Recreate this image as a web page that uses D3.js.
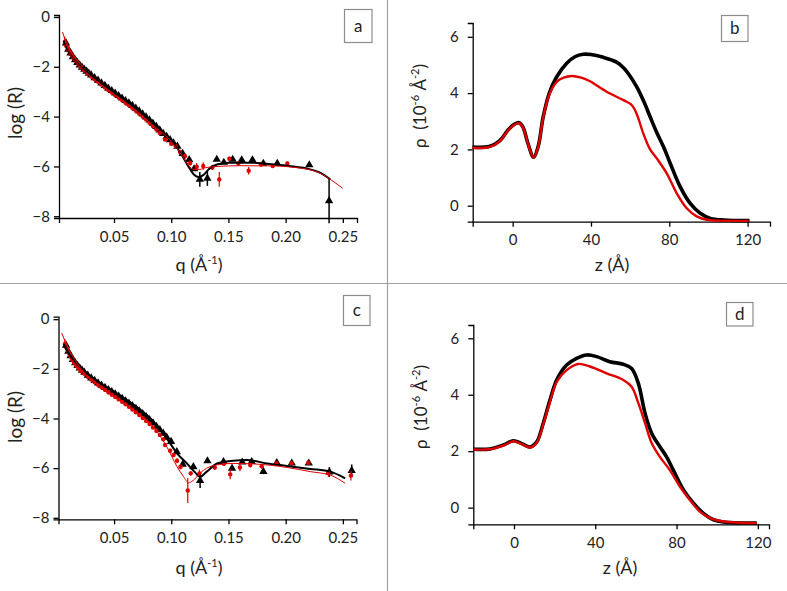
<!DOCTYPE html>
<html><head><meta charset="utf-8">
<script src="https://cdn.jsdelivr.net/npm/d3@7"></script>
<style>
html,body{margin:0;padding:0;background:#fff;}
svg text{font-family:Lato,"Open Sans",sans-serif;fill:#222;}
</style></head>
<body><svg id="c" width="787" height="591"></svg>
<script>
// ---------------- DATA ----------------
const qTicks = [0.05, 0.10, 0.15, 0.20, 0.25];
const logRTicks = [0, -2, -4, -6, -8];
const zTicks = [0, 40, 80, 120];
const rhoTicks = [0, 2, 4, 6];

// Panel a : [q, logR, err]
const aBlackData = [[0.008,-1.05,0],[0.010,-1.3,0],[0.012,-1.45,0],[0.014,-1.6,0],[0.016,-1.72,0],[0.018,-1.83,0],[0.020,-1.93,0],[0.022,-2.02,0],[0.024,-2.1,0],[0.026,-2.18,0],[0.028,-2.26,0],[0.030,-2.33,0],[0.033,-2.44,0],[0.036,-2.54,0],[0.039,-2.65,0],[0.042,-2.75,0],[0.045,-2.86,0],[0.048,-2.96,0],[0.051,-3.06,0],[0.054,-3.16,0],[0.057,-3.26,0],[0.060,-3.36,0],[0.063,-3.46,0],[0.066,-3.56,0],[0.069,-3.67,0],[0.072,-3.78,0],[0.075,-3.9,0],[0.078,-4.02,0],[0.081,-4.14,0],[0.084,-4.27,0],[0.087,-4.4,0],[0.090,-4.54,0],[0.093,-4.68,0],[0.096,-4.8,0],[0.099,-4.93,0],[0.102,-5.06,0],[0.1054,-5.19,0],[0.110,-5.48,0],[0.1157,-5.73,0],[0.120,-6.1,0],[0.125,-6.52,0.3],[0.1316,-6.48,0.3],[0.1398,-5.72,0],[0.146,-5.84,0],[0.1537,-5.72,0],[0.1616,-5.74,0],[0.171,-5.74,0],[0.1805,-5.88,0],[0.1927,-5.88,0],[0.2207,-5.94,0],[0.238,-7.38,0.9]];
const aRedData = [[0.007,-1.0,0.22],[0.009,-1.2,0.2],[0.011,-1.38,0.18],[0.013,-1.52,0.15],[0.015,-1.66,0.12],[0.017,-1.78,0.1],[0.019,-1.9,0.08],[0.021,-2.0,0.06],[0.024,-2.14,0.05],[0.027,-2.27,0.05],[0.030,-2.39,0.04],[0.033,-2.5,0.04],[0.036,-2.6,0.03],[0.039,-2.71,0.03],[0.042,-2.82,0.03],[0.045,-2.93,0.03],[0.048,-3.03,0.03],[0.051,-3.13,0.03],[0.054,-3.23,0.03],[0.057,-3.33,0.03],[0.060,-3.44,0.03],[0.063,-3.54,0.03],[0.066,-3.65,0.03],[0.069,-3.76,0.03],[0.072,-3.88,0.03],[0.075,-4.0,0.03],[0.078,-4.12,0.04],[0.081,-4.25,0.04],[0.084,-4.38,0.04],[0.087,-4.52,0.05],[0.090,-4.66,0.05],[0.0946,-4.92,0.06],[0.100,-5.08,0.06],[0.104,-5.19,0.07],[0.1077,-5.42,0.08],[0.112,-5.59,0.1],[0.1166,-5.86,0.1],[0.1223,-6.01,0.15],[0.128,-5.98,0.15],[0.136,-6.04,0.1],[0.142,-6.52,0.3],[0.1508,-5.69,0.08],[0.1587,-5.88,0.08],[0.1677,-6.17,0.15],[0.1785,-5.92,0.08],[0.1887,-5.98,0.08],[0.2015,-5.88,0.08]];
const aBlackFit = [[0.006,-0.95],[0.010,-1.35],[0.015,-1.7],[0.020,-1.95],[0.030,-2.35],[0.040,-2.7],[0.050,-3.03],[0.060,-3.35],[0.070,-3.7],[0.080,-4.1],[0.090,-4.55],[0.100,-4.95],[0.105,-5.25],[0.110,-5.6],[0.115,-6.0],[0.120,-6.33],[0.124,-6.42],[0.128,-6.35],[0.133,-6.1],[0.140,-5.92],[0.150,-5.85],[0.170,-5.85],[0.190,-5.92],[0.210,-6.02],[0.220,-6.1],[0.230,-6.25],[0.239,-6.52]];
const aRedFit = [[0.005,-0.6],[0.010,-1.3],[0.020,-1.97],[0.030,-2.4],[0.050,-3.1],[0.080,-4.2],[0.100,-5.0],[0.110,-5.6],[0.115,-5.95],[0.120,-6.12],[0.125,-6.12],[0.130,-6.05],[0.140,-6.0],[0.160,-5.97],[0.190,-5.98],[0.210,-6.05],[0.220,-6.12],[0.230,-6.27],[0.240,-6.55],[0.250,-6.88]];

// Panel c : [q, logR, err]
const cBlackData = [[0.008,-1.05,0],[0.010,-1.3,0],[0.012,-1.48,0],[0.014,-1.63,0],[0.016,-1.76,0],[0.018,-1.87,0],[0.020,-1.97,0],[0.022,-2.06,0],[0.024,-2.14,0],[0.027,-2.26,0],[0.030,-2.37,0],[0.033,-2.47,0],[0.036,-2.57,0],[0.039,-2.66,0],[0.042,-2.75,0],[0.045,-2.84,0],[0.048,-2.93,0],[0.051,-3.02,0],[0.054,-3.11,0],[0.057,-3.2,0],[0.060,-3.3,0],[0.063,-3.39,0],[0.066,-3.49,0],[0.069,-3.6,0],[0.072,-3.7,0],[0.075,-3.81,0],[0.078,-3.93,0],[0.081,-4.05,0],[0.084,-4.18,0],[0.087,-4.32,0],[0.090,-4.46,0],[0.093,-4.6,0],[0.096,-4.76,0],[0.0998,-4.93,0],[0.1048,-5.34,0],[0.110,-5.85,0],[0.1193,-5.95,0],[0.1252,-6.5,0.3],[0.1316,-5.71,0],[0.1456,-5.74,0],[0.1531,-6.01,0],[0.162,-5.76,0],[0.1703,-5.74,0],[0.1805,-6.14,0.1],[0.1922,-5.78,0],[0.2053,-5.8,0],[0.2202,-5.8,0],[0.2382,-6.16,0.2],[0.2577,-6.1,0.25]];
const cRedData = [[0.007,-1.0,0.2],[0.009,-1.2,0.18],[0.011,-1.42,0.15],[0.013,-1.6,0.12],[0.015,-1.75,0.1],[0.017,-1.88,0.08],[0.019,-1.99,0.06],[0.021,-2.09,0.05],[0.024,-2.2,0.04],[0.027,-2.32,0.04],[0.030,-2.43,0.03],[0.033,-2.54,0.03],[0.036,-2.64,0.03],[0.039,-2.74,0.03],[0.042,-2.84,0.03],[0.045,-2.94,0.03],[0.048,-3.04,0.03],[0.051,-3.13,0.03],[0.054,-3.23,0.03],[0.057,-3.33,0.03],[0.060,-3.43,0.03],[0.063,-3.53,0.03],[0.066,-3.64,0.03],[0.069,-3.75,0.03],[0.072,-3.86,0.03],[0.075,-3.98,0.04],[0.078,-4.1,0.04],[0.081,-4.22,0.04],[0.084,-4.36,0.05],[0.087,-4.5,0.05],[0.090,-4.66,0.05],[0.093,-4.84,0.06],[0.0946,-5.07,0.06],[0.099,-5.3,0.08],[0.102,-5.47,0.08],[0.105,-5.7,0.1],[0.108,-5.95,0.1],[0.1144,-6.9,0.5],[0.117,-6.21,0.1],[0.1246,-6.21,0.15],[0.138,-5.97,0.1],[0.146,-5.82,0.08],[0.1515,-6.25,0.2],[0.160,-5.97,0.15],[0.169,-5.87,0.1],[0.179,-5.92,0.1],[0.192,-5.8,0.08],[0.205,-5.8,0.08],[0.2197,-5.78,0.08],[0.2373,-6.2,0.15],[0.257,-6.3,0.2]];
const cBlackFit = [[0.006,-1.0],[0.0086,-1.24],[0.023,-2.04],[0.0378,-2.58],[0.050,-2.92],[0.067,-3.45],[0.0815,-3.99],[0.096,-4.8],[0.105,-5.4],[0.1136,-5.81],[0.121,-6.18],[0.125,-6.35],[0.131,-6.14],[0.140,-5.81],[0.154,-5.7],[0.166,-5.67],[0.1835,-5.81],[0.201,-5.91],[0.2215,-6.03],[0.239,-6.14],[0.252,-6.41]];
const cRedFit = [[0.0042,-0.56],[0.0086,-1.03],[0.023,-2.11],[0.0378,-2.72],[0.050,-3.09],[0.067,-3.66],[0.0815,-4.19],[0.096,-5.13],[0.105,-5.94],[0.1107,-6.34],[0.115,-6.59],[0.119,-6.5],[0.125,-6.21],[0.131,-6.0],[0.140,-5.87],[0.154,-5.81],[0.172,-5.83],[0.201,-5.97],[0.2215,-6.14],[0.239,-6.28],[0.252,-6.61]];

// Panel b : [z, rho]
const bBlack = [[-20.5,2.08],[-12,2.1],[-6.7,2.3],[-2.4,2.69],[1,2.9],[3.2,2.95],[5.2,2.8],[7.8,2.21],[10.7,1.72],[13,2.1],[15.6,3.16],[18.7,4.0],[22.5,4.58],[27.6,5.06],[32,5.3],[36,5.38],[40,5.37],[46.3,5.27],[53.1,5.1],[56.6,4.9],[60,4.6],[63.3,4.23],[67,3.7],[70.2,3.16],[73.6,2.6],[77,2.1],[80.5,1.5],[85.6,0.67],[90.7,0.08],[95.8,-0.27],[101,-0.45],[107.8,-0.51],[121,-0.53]];
const bRed = [[-20.5,2.06],[-12,2.08],[-6.7,2.28],[-2.4,2.67],[1,2.88],[3.2,2.93],[5.2,2.78],[7.8,2.2],[10.7,1.7],[13,2.08],[15.6,3.14],[18.7,3.95],[22.5,4.4],[26,4.55],[30.2,4.61],[35,4.55],[39.5,4.42],[48,4.05],[56.6,3.75],[60.9,3.57],[63.4,3.25],[66.8,2.55],[70.2,2.0],[73.6,1.68],[78.7,1.15],[83.8,0.44],[88.9,-0.09],[94,-0.38],[99.1,-0.5],[105,-0.53],[120.6,-0.54]];
// Panel d : [z, rho]
const dBlack = [[-20,2.07],[-11.8,2.08],[-5.2,2.22],[-0.3,2.37],[3.8,2.27],[7.9,2.15],[11.2,2.33],[14.4,2.99],[17.7,3.81],[21,4.52],[25.9,5.05],[30.8,5.29],[35.8,5.41],[40.7,5.35],[47.2,5.17],[53.8,5.08],[57.9,4.93],[61.2,4.4],[64.5,3.34],[67.8,2.63],[71.8,2.16],[75.1,1.8],[78.4,1.33],[83.4,0.63],[88.3,0.16],[93.2,-0.2],[98.2,-0.43],[103.1,-0.51],[119.5,-0.55]];
const dRed = [[-20,2.06],[-11.8,2.07],[-5.2,2.2],[-0.3,2.35],[3.8,2.25],[7.9,2.13],[11.2,2.3],[14.4,2.95],[17.7,3.75],[21,4.45],[25.9,4.87],[31.6,5.09],[37.4,5.0],[45.6,4.76],[53.8,4.52],[57.9,4.28],[61.2,3.7],[64.5,2.99],[67.8,2.28],[71.8,1.8],[76.7,1.33],[81.7,0.74],[86.6,0.27],[91.5,-0.14],[96.5,-0.37],[103.1,-0.49],[119.5,-0.55]];

// ---------------- DRAW ----------------
const RED = "#e00000";
const svg = d3.select("#c");
svg.append("rect").attr("width",787).attr("height",591).attr("fill","#fff");

// separators
svg.append("line").attr("x1",0).attr("x2",787).attr("y1",283.5).attr("y2",283.5).attr("stroke","#a0a0a0").attr("stroke-width",1.2);
svg.append("line").attr("x1",387.5).attr("x2",387.5).attr("y1",0).attr("y2",591).attr("stroke","#a0a0a0").attr("stroke-width",1.2);

function styleAxis(g, fs){
  g.selectAll("path.domain").attr("stroke","#000").attr("stroke-width",1.3);
  g.selectAll(".tick line").attr("stroke","#000").attr("stroke-width",1.3);
  g.selectAll("text").style("font-size",fs+"px").attr("fill","#222");
}
function addAxes(x, y, xt, yt, xfmt, yfmt, fs, ypad){
  const gx = svg.append("g").attr("transform",`translate(0,${y.range()[0]})`)
    .call(d3.axisBottom(x).tickValues(xt).tickSizeOuter(0).tickSize(5).tickPadding(8).tickFormat(xfmt));
  styleAxis(gx, fs);
  const gy = svg.append("g").attr("transform",`translate(${x.range()[0]},0)`)
    .call(d3.axisLeft(y).tickValues(yt).tickSizeOuter(0).tickSize(5).tickPadding(ypad).tickFormat(yfmt));
  styleAxis(gy, fs);
}
function labelBox(x, y, w, h, t){
  svg.append("rect").attr("x",x).attr("y",y).attr("width",w).attr("height",h)
    .attr("fill","#fff").attr("stroke","#8c8c8c").attr("stroke-width",1.2);
  svg.append("text").attr("x",x+w/2).attr("y",y+h/2).attr("dy","0.35em").attr("text-anchor","middle")
    .style("font-size","17px").attr("fill","#111").text(t);
}
function qLabel(cx, by){
  const t = svg.append("text").attr("x",cx).attr("y",by).attr("text-anchor","middle").style("font-size","18px").attr("fill","#111");
  t.append("tspan").text("q (Å");
  t.append("tspan").attr("dy",-7).style("font-size","11px").text("-1");
  t.append("tspan").attr("dy",7).text(")");
}
function logRLabel(cx, cy){
  svg.append("text").attr("transform",`translate(${cx},${cy}) rotate(-90)`).attr("text-anchor","middle")
    .attr("dy","0.35em").style("font-size","19px").attr("fill","#111").text("log (R)");
}
function zLabel(cx, by){
  svg.append("text").attr("x",cx).attr("y",by).attr("text-anchor","middle").style("font-size","18px").attr("fill","#111").text("z (Å)");
}
function rhoLabel(cx, cy){
  const t = svg.append("text").attr("transform",`translate(${cx},${cy}) rotate(-90)`).attr("text-anchor","middle")
    .attr("dy","0.35em").style("font-size","17px").attr("fill","#111").attr("xml:space","preserve");
  t.append("tspan").text("ρ  (10");
  t.append("tspan").attr("dy",-7).style("font-size","11px").text("-6");
  t.append("tspan").attr("dy",7).text(" Å");
  t.append("tspan").attr("dy",-7).style("font-size","11px").text("-2");
  t.append("tspan").attr("dy",7).text(")");
}

const fmtQ = d3.format(".2f");
const fmtI = d3.format("d");
const tri = d3.symbol().type(d3.symbolTriangle).size(30);

function reflPanel(x, y, blackData, redData, blackFit, redFit){
  const line = d3.line().x(d=>x(d[0])).y(d=>y(d[1])).curve(d3.curveMonotoneX);
  const gb = svg.append("g");
  gb.selectAll("line").data(blackData.filter(d=>d[2]>0)).join("line")
    .attr("x1",d=>x(d[0])).attr("x2",d=>x(d[0]))
    .attr("y1",d=>y(d[1]-d[2])).attr("y2",d=>y(d[1]+d[2]))
    .attr("stroke","#000").attr("stroke-width",1.5);
  gb.selectAll("path").data(blackData).join("path")
    .attr("transform",d=>`translate(${x(d[0])},${y(d[1])})`).attr("d",tri).attr("fill","#000");
  const gr = svg.append("g");
  gr.selectAll("line").data(redData).join("line")
    .attr("x1",d=>x(d[0])).attr("x2",d=>x(d[0]))
    .attr("y1",d=>y(d[1]-d[2])).attr("y2",d=>y(d[1]+d[2]))
    .attr("stroke",RED).attr("stroke-width",1.2);
  gr.selectAll("circle").data(redData).join("circle")
    .attr("cx",d=>x(d[0])).attr("cy",d=>y(d[1])).attr("r",2.2).attr("fill",RED);
  svg.append("path").datum(blackFit).attr("d",line).attr("fill","none").attr("stroke","#000").attr("stroke-width",2);
  svg.append("path").datum(redFit).attr("d",line).attr("fill","none").attr("stroke",RED).attr("stroke-width",1);
}

function sldPanel(x, y, black, red){
  const line = d3.line().x(d=>x(d[0])).y(d=>y(d[1])).curve(d3.curveCatmullRom.alpha(0.5));
  svg.append("path").datum(black).attr("d",line).attr("fill","none").attr("stroke","#000").attr("stroke-width",3.6).attr("stroke-linejoin","round");
  svg.append("path").datum(red).attr("d",line).attr("fill","none").attr("stroke",RED).attr("stroke-width",2.4).attr("stroke-linejoin","round");
}

// Panel a
{
  const x = d3.scaleLinear().domain([0.0019,0.2624]).range([59,357]);
  const y = d3.scaleLinear().domain([-8.07,0.08]).range([218,15]);
  addAxes(x,y,qTicks,logRTicks,fmtQ,fmtI,15,4);
  reflPanel(x,y,aBlackData,aRedData,aBlackFit,aRedFit);
  qLabel(199,271); logRLabel(15,113);
  labelBox(344.5,9.5,27.5,33,"a");
}
// Panel c
{
  const x = d3.scaleLinear().domain([0.0014,0.2619]).range([58.5,356.5]);
  const y = d3.scaleLinear().domain([-8.06,0.1]).range([519.3,316.7]);
  addAxes(x,y,qTicks,logRTicks,fmtQ,fmtI,15,4);
  reflPanel(x,y,cBlackData,cRedData,cBlackFit,cRedFit);
  qLabel(199,574); logRLabel(15,417);
  labelBox(343.5,295.5,26.5,30,"c");
}
// Panel b
{
  const x = d3.scaleLinear().domain([-20.43,131.45]).range([472.7,770]);
  const y = d3.scaleLinear().domain([-0.568,6.49]).range([221.7,23]);
  addAxes(x,y,zTicks,rhoTicks,fmtI,fmtI,15,9);
  sldPanel(x,y,bBlack,bRed);
  zLabel(612,271); rhoLabel(420,106);
  labelBox(721.5,15.5,26.5,26,"b");
}
// Panel d
{
  const x = d3.scaleLinear().domain([-20.02,125.5]).range([473.3,769]);
  const y = d3.scaleLinear().domain([-0.59,6.47]).range([524.3,325]);
  addAxes(x,y,zTicks,rhoTicks,fmtI,fmtI,15,9);
  sldPanel(x,y,dBlack,dRed);
  zLabel(620,574); rhoLabel(421,407);
  labelBox(726.5,302.5,26.5,23.5,"d");
}
</script></body></html>
